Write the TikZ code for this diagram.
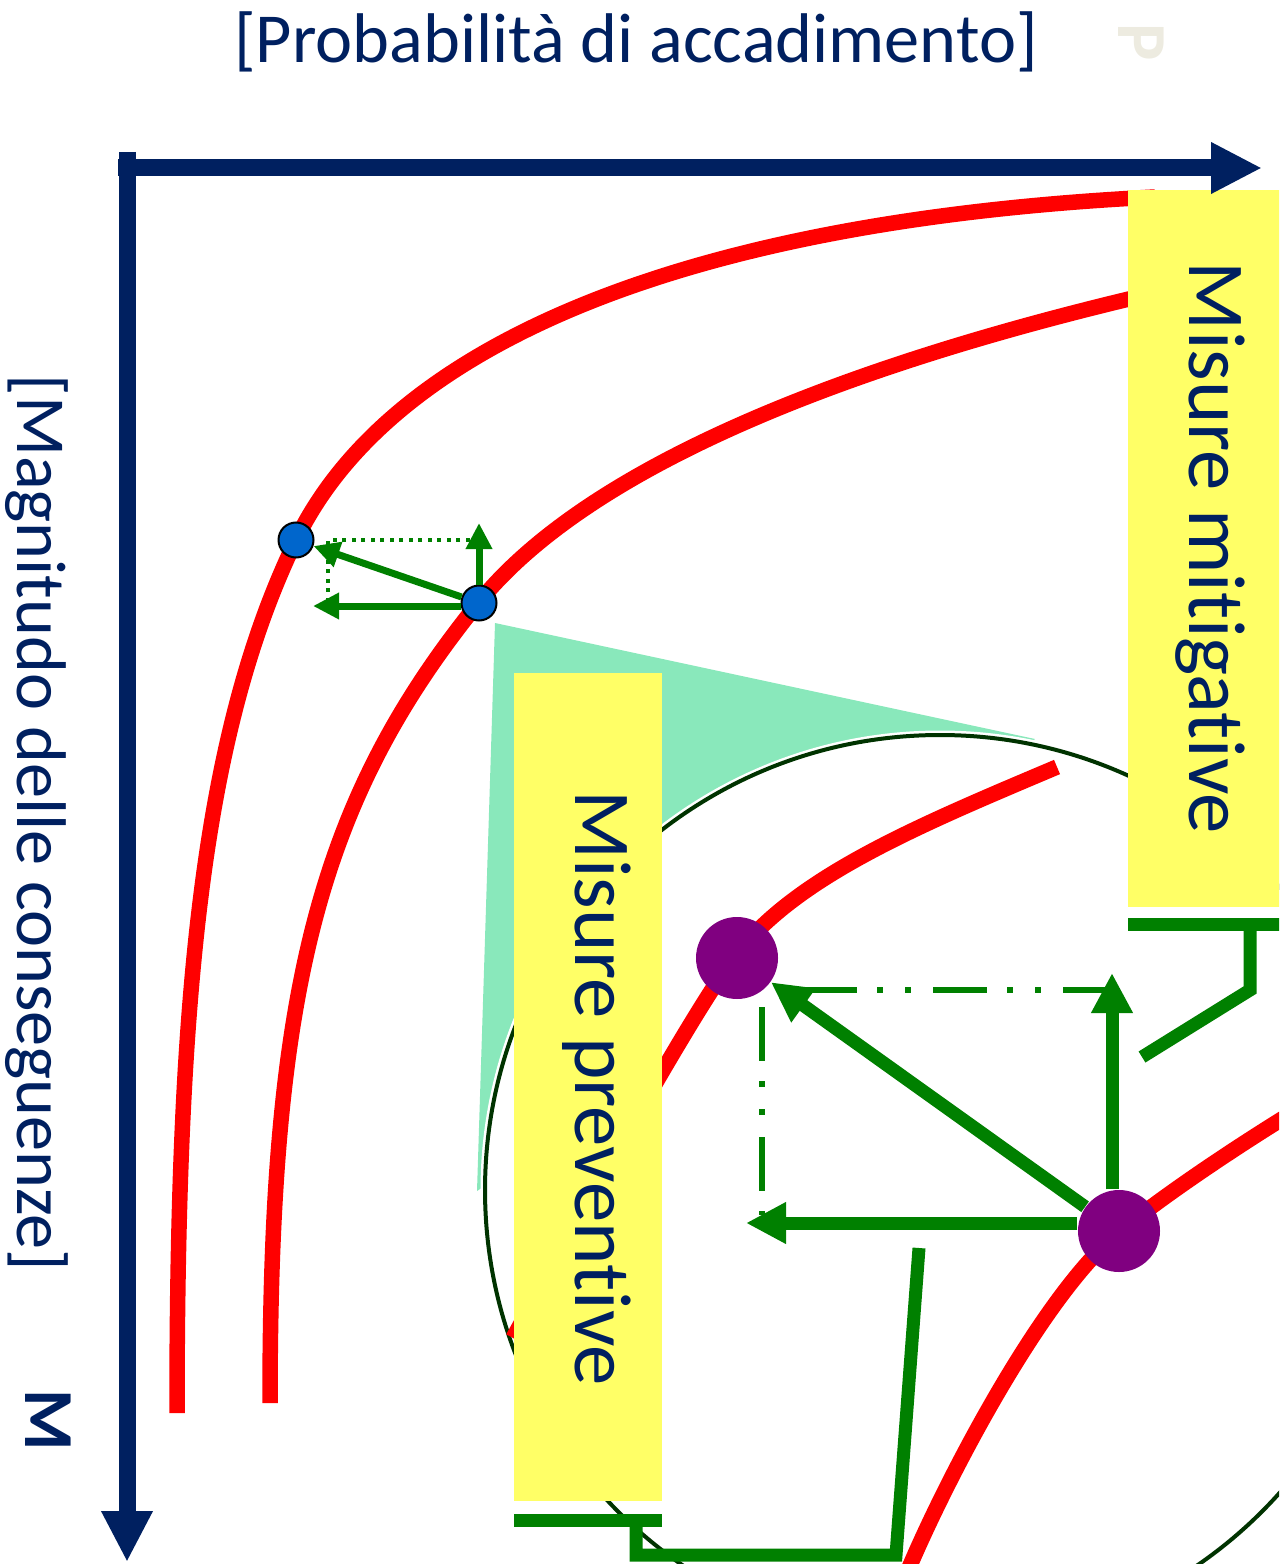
\documentclass[tikz,border=0pt]{standalone}
\usepackage{fontspec}
\setmainfont{Carlito}[Ligatures={NoCommon}]
\usepackage{tikz}
\usetikzlibrary{arrows.meta,calc}
\definecolor{navy}{HTML}{002060}
\definecolor{mint}{HTML}{89E8BB}
\definecolor{ring}{HTML}{003300}
\definecolor{leaf}{HTML}{008000}
\definecolor{plum}{HTML}{800080}
\definecolor{dotblue}{HTML}{0066CC}
\definecolor{boxyellow}{HTML}{FFFF66}
\definecolor{faint}{HTML}{EDEBE0}

\begin{document}
\begin{tikzpicture}[x=0.1mm,y=-0.1mm,
    curve/.style={line width=1.55mm,red},
    axis/.style={line width=1.7mm,navy,-{Triangle[length=5.1mm,width=4.8mm]}},
    axlabel/.style={navy,inner sep=0pt,anchor=base,font=\fontsize{20pt}{24pt}\selectfont},
    boxlabel/.style={navy,inner sep=0pt,anchor=base,rotate=-90,font=\fontsize{23pt}{27pt}\selectfont},
    bdot/.style={circle,inner sep=0pt,minimum size=3.5mm,fill=dotblue,draw=black,line width=0.2mm},
    pdot/.style={circle,inner sep=0pt,minimum size=8.2mm,fill=plum},
    arrB/.style={leaf,line width=0.7mm,-{Triangle[length=2.6mm,width=2.5mm]}},
    arrP/.style={leaf,line width=1.3mm,-{Triangle[length=4mm,width=3.9mm]}},
    bracket/.style={leaf,line width=1.3mm},
    dotline/.style={leaf,line width=0.4mm,dash pattern=on 0.4mm off 0.55mm},
    dashdot/.style={leaf,line width=0.6mm,dash pattern=on 5.4mm off 2mm on 0.6mm off 2.2mm on 0.6mm off 2.2mm}]
  \useasboundingbox (0,0) rectangle (1279,1564);
  \clip (0,0) rectangle (1279,1564);

  % shaded cone and ring
  \fill[mint] (495,623) -- (1035,739) -- (760,1000) -- (477,1191) -- cycle;
  \fill[white] (940,1190) circle[radius=45.95mm];
  \draw[ring,line width=0.4mm] (940,1190) circle[radius=45.5mm];

  % iso-risk curves
  \draw[curve] (177,1413) .. controls (177,1000) and (201.5,735) .. (296,540)
               .. controls (384,358) and (655,222) .. (1155,197);
  \draw[curve] (270,1403) .. controls (270,1000) and (315,804) .. (479,602)
               .. controls (592.6,462.3) and (857.8,362.4) .. (1150,294);
  \draw[curve] (513,1338) .. controls (544.7,1280.6) and (687,1018) .. (736,955)
               .. controls (797,876) and (918.9,825.4) .. (1057,767);
  \draw[curve] (906,1575) .. controls (944.4,1482.7) and (1041.6,1295.3) .. (1119,1232)
               .. controls (1165.4,1194) and (1238.9,1145.4) .. (1290,1114);

  % boxes
  \fill[boxyellow] (1128,190) rectangle (1290,907);
  \fill[boxyellow] (514,673) rectangle (662,1501);
  \node[boxlabel] (mitLab) at (1189,548) {Misure mitigative};
  \node[boxlabel] (prevLab) at (575,1088) {Misure preventive};
  \draw[bracket] (1128,924) -- (1290,924);
  \draw[bracket] (1250,924) -- (1250,990) -- (1142,1057);
  \draw[bracket] (514,1520) -- (662,1520);
  \draw[bracket] (636,1520) -- (636,1555) -- (896,1555) -- (919,1248);

  % axes
  \draw[axis] (118,168) -- (1262,168);
  \draw[axis] (127,152) -- (127,1562);
  \node[axlabel] (probLab) at (636,63) {[Probabilità di accadimento]};
  \node[axlabel,rotate=-90] (magLab) at (17,823) {[Magnitudo delle conseguenze]};
  \node[axlabel,rotate=-90,font=\fontsize{20pt}{24pt}\selectfont\bfseries] (mLab) at (25,1420) {M};
  \node[axlabel,rotate=-90,faint,font=\fontsize{20pt}{24pt}\selectfont\bfseries] (pLab) at (1118,42) {P};

  % points
  \node[bdot] (bA) at (296,540) {};
  \node[bdot] (bB) at (479,603) {};
  \node[pdot] (pA) at (737,958) {};
  \node[pdot] (pB) at (1119,1231) {};
  \coordinate (bUp) at (479,523);
  \coordinate (bLeft) at (313,606);
  \coordinate (bCorner) at (328,540);
  \coordinate (pUp) at (1112,973);
  \coordinate (pLeft) at (746,1223);

  % shifts
  \draw[dotline] (bUp |- bA) -- (bCorner) -- (bCorner |- bLeft);
  \draw[dashdot] (803,990) -- (pUp |- 0,990);
  \draw[dashdot] (762,1007) -- (762,1215);
  \draw[arrB] (bUp |- bB.north) -- (bUp);
  \draw[arrB] (bB.west |- bLeft) -- (bLeft);
  \draw[arrB] (bB) -- (bA);
  \draw[arrP] (pUp |- pB.north) -- (pUp);
  \draw[arrP] (pLeft -| pB.west) -- (pLeft);
  \draw[arrP] (pB) -- (pA);
\end{tikzpicture}
\end{document}
